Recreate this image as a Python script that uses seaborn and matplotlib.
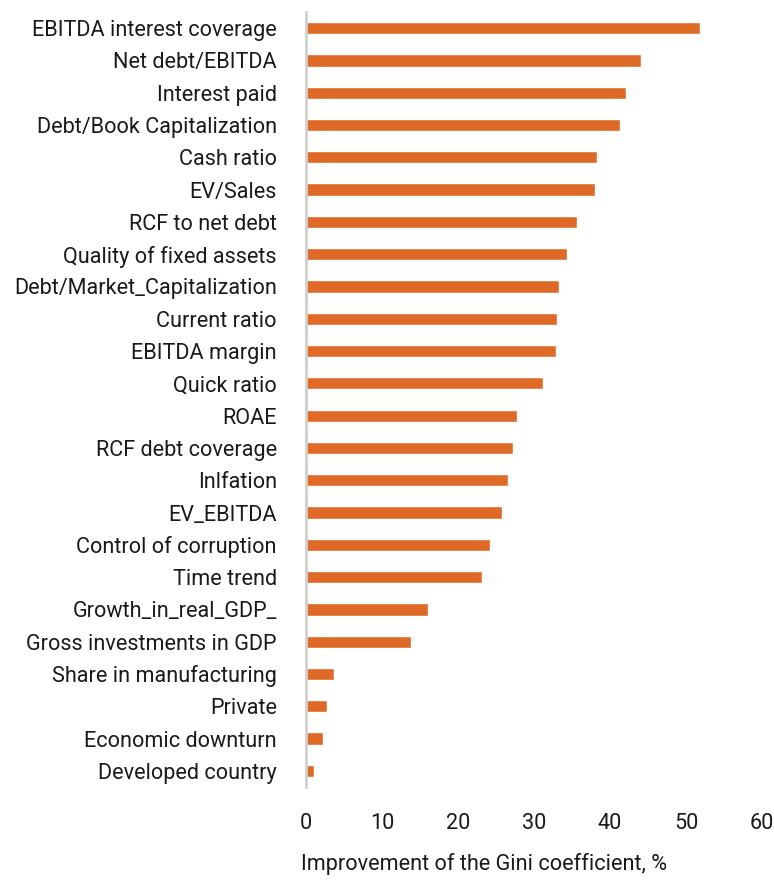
import numpy as np
import pandas as pd
import seaborn as sns
import matplotlib.pyplot as plt

sns.set_style('white')
plt.rcParams['font.family'] = ['Roboto', 'DejaVu Sans']

# Dados
factors = [
    'EBITDA interest coverage', 'Net debt/EBITDA', 'Interest paid',
    'Debt/Book Capitalization', 'Cash ratio', 'EV/Sales', 'RCF to net debt',
    'Quality of fixed assets', 'Debt/Market_Capitalization', 'Current ratio',
    'EBITDA margin', 'Quick ratio', 'ROAE', 'RCF debt coverage', 'Inlfation',
    'EV_EBITDA', 'Control of corruption', 'Time trend', 'Growth_in_real_GDP_',
    'Gross investments in GDP', 'Share in manufacturing', 'Private',
    'Economic downturn', 'Developed country',
]
improvement = [
    51.8, 44.1, 42.1, 41.3, 38.3, 38.0, 35.7, 34.3, 33.3, 33.0, 32.9, 31.2,
    27.8, 27.2, 26.6, 25.8, 24.2, 23.2, 16.1, 13.8, 3.7, 2.8, 2.2, 1.1,
]

df = pd.DataFrame({'factor': factors, 'gini': improvement})

fig = plt.figure(figsize=(7.74, 8.82), dpi=100)
ax = fig.add_axes([306 / 774, 95 / 882, 456 / 774, 775 / 882])

sns.barplot(data=df, x='gini', y='factor', orient='h', color='#DF6A27',
            width=0.38, saturation=1, ax=ax)

fs = 15.6
ax.set_xlim(0, 60)
ax.set_ylim(23.5, -0.5)
ax.set_xticks(np.arange(0, 61, 10))
ax.set_xlabel('Improvement of the Gini coefficient, %', fontsize=fs,
              loc='left', color='#1a1a1a')
ax.xaxis.set_label_coords(-0.012, -0.085)
ax.set_ylabel('')
ax.tick_params(axis='y', length=0, pad=21, labelsize=fs, labelcolor='#1a1a1a')
ax.tick_params(axis='x', length=0, pad=19, labelsize=fs, labelcolor='#1a1a1a')

for s in ['top', 'right', 'bottom']:
    ax.spines[s].set_visible(False)
ax.spines['left'].set_color('#D0D0D0')
ax.spines['left'].set_linewidth(2)
ax.grid(False)

plt.savefig('out.png', dpi=100)
